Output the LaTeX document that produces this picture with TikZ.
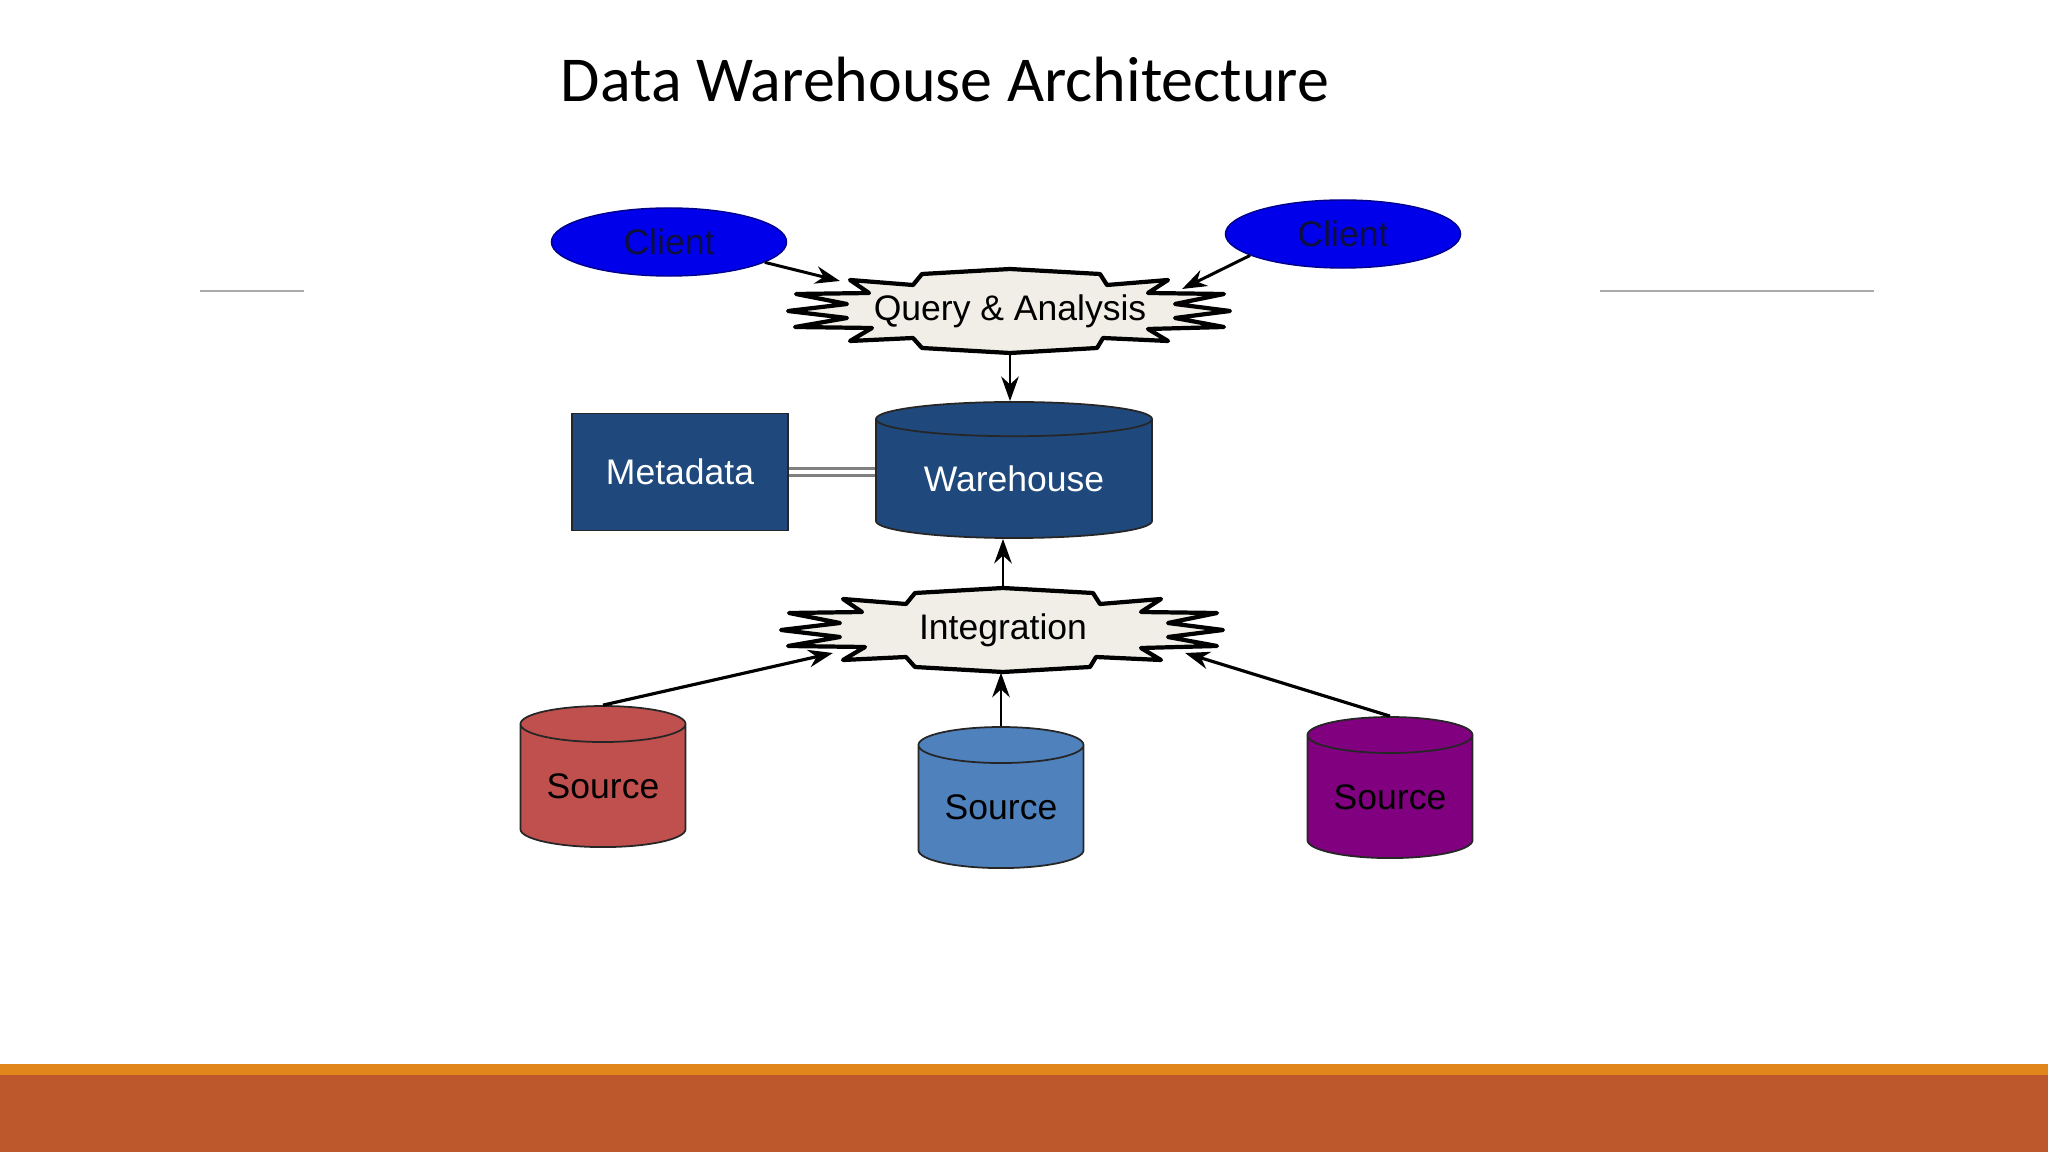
\documentclass[tikz,border=0pt]{standalone}
\usepackage{fontspec}
\setmainfont{Liberation Sans}
\newfontfamily\titlefont{Carlito}
\usetikzlibrary{shapes.geometric,arrows.meta}
\definecolor{clientblue}{RGB}{0,0,235}
\definecolor{clienttext}{RGB}{15,15,60}
\definecolor{burstfill}{RGB}{240,238,230}
\definecolor{whblue}{RGB}{31,73,125}
\definecolor{srcred}{RGB}{192,80,77}
\definecolor{srcblue}{RGB}{79,129,189}
\definecolor{srcpurple}{RGB}{128,0,128}
\definecolor{bandorange}{RGB}{225,134,26}
\definecolor{bandrust}{RGB}{189,88,44}
\definecolor{rulegray}{RGB}{170,170,170}
\tikzset{
  client/.style={ellipse, fill=clientblue, draw=blue!55!black, line width=0.4pt,
    minimum width=2.35cm, minimum height=0.68cm, inner sep=0pt, text=clienttext},
  db/.style={cylinder, shape border rotate=90, draw=black!85, line width=0.5pt, inner sep=0pt},
  source/.style={db, minimum width=1.65cm, minimum height=1.41cm, aspect=0.32},
  burstlabel/.style={minimum width=4.5cm, minimum height=0.84cm, inner sep=0pt},
  flow/.style={-{Stealth[length=7pt,width=5pt]}, line width=0.7pt},
  burst/.pic={
    \draw[line width=1.2pt, fill=burstfill, line join=round]
      (-160,-31) -- (-97,-26) -- (-88,-37) -- (0,-42) -- (90,-37) -- (97,-26)
      -- (158,-31) -- (138,-18) -- (214,-17) -- (165,-7) -- (220,0) -- (165,7)
      -- (214,16) -- (138,18) -- (158,30) -- (93,27) -- (87,37) -- (0,42)
      -- (-88,37) -- (-97,27) -- (-160,30) -- (-138,17) -- (-215,16) -- (-163,7)
      -- (-222,0) -- (-163,-7) -- (-214,-17) -- (-141,-18) -- cycle;
  }
}
\begin{document}
\begin{tikzpicture}[x=0.01cm, y=-0.01cm, font=\fontsize{10.1}{12}\selectfont]
  \useasboundingbox (0,0) rectangle (2048,1152);
  % Title and slide decoration
  \node[anchor=base, font=\titlefont\fontsize{18.2}{22}\selectfont] (title) at (945,102) {Data Warehouse Architecture};
  \draw[rulegray, line width=0.6pt] (200,291) -- (304,291);
  \draw[rulegray, line width=0.6pt] (1600,291) -- (1874,291);
  \fill[bandorange] (0,1064) rectangle (2048,1075);
  \fill[bandrust] (0,1075) rectangle (2048,1152);
  % Clients and query layer
  \node[client] (clientL) at (669,242) {Client};
  \node[client] (clientR) at (1343,234) {Client};
  \pic at (1010,311) {burst};
  \node[burstlabel] (query) at (1010,311) {Query \& Analysis};
  % Warehouse and metadata
  \node[db, fill=whblue, text=white, minimum width=2.76cm, minimum height=1.36cm, aspect=0.19] (wh) at (1014,479) {Warehouse};
  \node[draw=black!85, fill=whblue, text=white, minimum width=2.16cm, minimum height=1.17cm] (meta) at (680,472) {Metadata};
  % Integration layer and sources
  \pic at (1003,630) {burst};
  \node[burstlabel] (integ) at (1003,630) {Integration};
  \node[source, fill=srcred] (srcA) at (603,786) {Source};
  \node[source, fill=srcblue] (srcB) at (1001,807) {Source};
  \node[source, fill=srcpurple] (srcC) at (1390,797) {Source};
  % Connectors
  \draw[flow, line width=0.85pt] (clientL.-12) -- ([xshift=-1.70cm, yshift=0.30cm]query.center);
  \draw[flow, line width=0.85pt] (clientR.193) -- ([xshift=1.72cm, yshift=0.22cm]query.center);
  \draw[flow] (query.south) -- (query.south |- wh.north);
  \draw[rulegray!75!black, line width=0.8pt, double=white, double distance=1.2pt] (meta.east) -- (meta.east -| wh.west);
  \draw[flow] (integ.north) -- (integ.north |- wh.south);
  \draw[flow, line width=0.9pt] (srcA.north) -- ([xshift=-1.70cm, yshift=-0.23cm]integ.center);
  \draw[flow] (srcB.north) -- (srcB.north |- integ.south);
  \draw[flow, line width=0.9pt] (srcC.north) -- ([xshift=1.82cm, yshift=-0.23cm]integ.center);
\end{tikzpicture}
\end{document}
